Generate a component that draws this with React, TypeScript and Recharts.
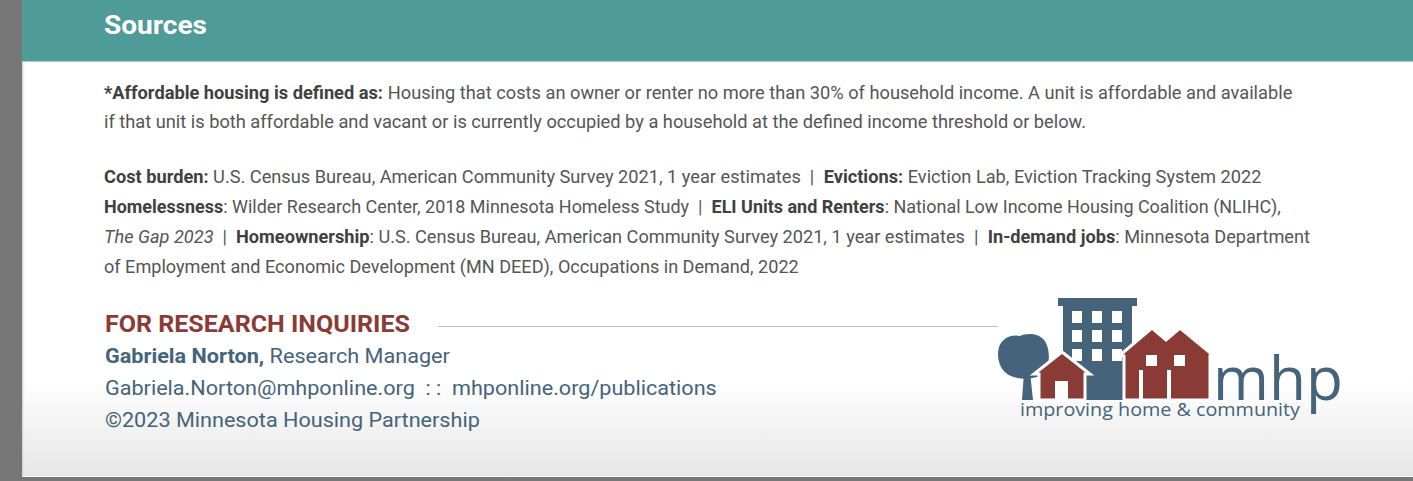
import React from "react";
import { Surface, Layer, Rectangle, Polygon } from "recharts";

// Text content, one entry per printed line
type Seg = { t: string; b?: boolean; i?: boolean };

const noteLines: Seg[][] = [
  [
    { t: "*Affordable housing is defined as:", b: true },
    { t: " Housing that costs an owner or renter no more than 30% of household income. A unit is affordable and available" },
  ],
  [{ t: "if that unit is both affordable and vacant or is currently occupied by a household at the defined income threshold or below." }],
];

const sourceLines: Seg[][] = [
  [
    { t: "Cost burden:", b: true },
    { t: " U.S. Census Bureau, American Community Survey 2021, 1 year estimates  |  " },
    { t: "Evictions:", b: true },
    { t: " Eviction Lab, Eviction Tracking System 2022" },
  ],
  [
    { t: "Homelessness", b: true },
    { t: ": Wilder Research Center, 2018 Minnesota Homeless Study  |  " },
    { t: "ELI Units and Renters", b: true },
    { t: ": National Low Income Housing Coalition (NLIHC)," },
  ],
  [
    { t: "The Gap 2023", i: true },
    { t: "  |  " },
    { t: "Homeownership", b: true },
    { t: ": U.S. Census Bureau, American Community Survey 2021, 1 year estimates  |  " },
    { t: "In-demand jobs", b: true },
    { t: ": Minnesota Department" },
  ],
  [{ t: "of Employment and Economic Development (MN DEED), Occupations in Demand, 2022" }],
];

const contactLines: Seg[][] = [
  [{ t: "Gabriela Norton,", b: true }, { t: " Research Manager" }],
  [{ t: "Gabriela.Norton@mhponline.org  : :  mhponline.org/publications" }],
  [{ t: "\u00a92023 Minnesota Housing Partnership" }],
];

// measured line widths (px) so the rendered lines end where the original does
const noteWidths = [1189, 983];
const sourceWidths = [1158, 1177, 1206, 695];
const contactWidths = [345, 612, 375];

const W = 1413;
const H = 481;
const TEAL = "#4e9b97";
const SLATE = "#45637a";
const RED = "#8b3b36";
const BODY = "#555555";
const FONT = "Roboto";

let ctx: CanvasRenderingContext2D | null = null;
const measure = (s: Seg, size: number) => {
  if (!ctx) ctx = document.createElement("canvas").getContext("2d");
  if (!ctx) return s.t.length * size * 0.5;
  ctx.font = `${s.i ? "italic " : ""}${s.b ? 700 : 400} ${size}px ${FONT}`;
  return ctx.measureText(s.t).width;
};

// one printed line: segments laid out side by side, then squeezed to the measured width
const Line = ({ segs, x, y, width, size, color, boldColor }: { segs: Seg[]; x: number; y: number; width: number; size: number; color: string; boldColor: string }) => {
  const widths = segs.map((s) => measure(s, size));
  const total = widths.reduce((a, b) => a + b, 0);
  const sx = width / total;
  let cx = 0;
  return (
    <g transform={`translate(${x},${y}) scale(${sx},1)`}>
      {segs.map((s, k) => {
        const px = cx;
        cx += widths[k];
        return (
          <text
            key={k}
            x={px}
            y={0}
            fontSize={size}
            fontFamily={`${FONT}, sans-serif`}
            fontWeight={s.b ? 700 : 400}
            fontStyle={s.i ? "italic" : "normal"}
            fill={s.b ? boldColor : color}
            style={{ whiteSpace: "pre" }}
          >
            {s.t}
          </text>
        );
      })}
    </g>
  );
};

const Logo = () => {
  const windowsX = [1072, 1092, 1112];
  const windowsY = [311, 330, 349];
  return (
    <Layer>
      {/* tree */}
      <path d="M1022 400 L1024 372 L1030 372 L1033 400 Z" fill={SLATE} />
      <path
        d="M1001 343 C996 350 997 366 1006 373 C1013 380 1036 381 1044 373 C1051 365 1050 347 1044 340 C1038 333 1027 333 1020 336 C1012 334 1005 337 1001 343 Z"
        fill={SLATE}
      />
      {/* tower */}
      <Rectangle x={1058} y={298} width={79} height={8} fill={SLATE} />
      <Rectangle x={1063} y={305} width={69} height={95} fill={SLATE} />
      {windowsY.map((wy) =>
        windowsX.map((wx) => <Rectangle key={`${wx}-${wy}`} x={wx} y={wy} width={10} height={12} fill="#ffffff" />)
      )}
      {/* small house */}
      <Polygon
        points={[
          { x: 1034, y: 374 },
          { x: 1062, y: 352 },
          { x: 1090, y: 374 },
          { x: 1085, y: 374 },
          { x: 1085, y: 400 },
          { x: 1039, y: 400 },
          { x: 1039, y: 374 },
        ]}
        fill={RED}
        stroke="#ffffff"
        strokeWidth={3}
      />
      <Rectangle x={1055} y={381} width={13} height={19} fill="#ffffff" />
      {/* duplex */}
      <Polygon
        points={[
          { x: 1119, y: 356 },
          { x: 1152, y: 328 },
          { x: 1166, y: 340 },
          { x: 1180, y: 328 },
          { x: 1214, y: 356 },
          { x: 1210, y: 356 },
          { x: 1210, y: 400 },
          { x: 1124, y: 400 },
          { x: 1124, y: 356 },
        ]}
        fill={RED}
        stroke="#ffffff"
        strokeWidth={3}
      />
      <Rectangle x={1146} y={355} width={11} height={11} fill="#ffffff" />
      <Rectangle x={1174} y={355} width={11} height={11} fill="#ffffff" />
      <Rectangle x={1139} y={370} width={4} height={30} fill="#ffffff" />
      <Rectangle x={1167} y={370} width={4} height={30} fill="#ffffff" />
      <Rectangle x={1018} y={400} width={194} height={2} fill="#ffffff" />
      <text x={1213} y={400} fill={SLATE} fontSize={60} fontFamily="'Open Sans', sans-serif" textLength={130} lengthAdjust="spacingAndGlyphs">
        mhp
      </text>
      <text x={1020} y={416} fill={SLATE} fontSize={19} fontFamily="'Open Sans', sans-serif" textLength={280} lengthAdjust="spacingAndGlyphs">
        improving home &amp; community
      </text>
    </Layer>
  );
};

const App: React.FC = () => {
  return (
    <div style={{ width: W, height: H, position: "relative", overflow: "hidden" }}>
      <style>{`body{margin:0}`}</style>
      <Surface width={W} height={H} viewBox={{ x: 0, y: 0, width: W, height: H }}>
        <defs>
          <linearGradient id="pageFade" x1="0" y1="0" x2="0" y2="1">
            <stop offset="0" stopColor="#ffffff" />
            <stop offset="1" stopColor="#e6e6e6" />
          </linearGradient>
          <linearGradient id="edgeShade" x1="0" y1="0" x2="1" y2="0">
            <stop offset="0" stopColor="#d0d0d0" />
            <stop offset="1" stopColor="#ffffff" stopOpacity={0} />
          </linearGradient>
        </defs>
        <Rectangle x={0} y={0} width={W} height={H} fill="#777777" />
        <Rectangle x={22} y={0} width={W - 22} height={477} fill="#ffffff" />
        <Rectangle x={22} y={380} width={W - 22} height={96} fill="url(#pageFade)" />
        <Rectangle x={22} y={61} width={4} height={415} fill="url(#edgeShade)" />
        <Rectangle x={22} y={0} width={W - 22} height={61} fill={TEAL} />
        <Rectangle x={22} y={61} width={W - 22} height={1} fill="#a9d0cd" />

        <text x={104} y={34} fill="#ffffff" fontSize={26} fontWeight={700} fontFamily="Roboto, sans-serif" textLength={103} lengthAdjust="spacingAndGlyphs">
          Sources
        </text>

        {noteLines.map((segs, k) => (
          <Line key={k} segs={segs} x={104} y={99 + k * 29} width={noteWidths[k]} size={18.5} color={BODY} boldColor="#404040" />
        ))}
        {sourceLines.map((segs, k) => (
          <Line key={k} segs={segs} x={104} y={183 + k * 30} width={sourceWidths[k]} size={18.5} color={BODY} boldColor="#404040" />
        ))}

        <Line segs={[{ t: "FOR RESEARCH INQUIRIES", b: true }]} x={105} y={332} width={305} size={23} color={RED} boldColor={RED} />
        <Rectangle x={438} y={326} width={560} height={1} fill="#bdbdbd" />
        {contactLines.map((segs, k) => (
          <Line key={k} segs={segs} x={105} y={363 + k * 32} width={contactWidths[k]} size={20} color={SLATE} boldColor={SLATE} />
        ))}

        <Logo />
      </Surface>
    </div>
  );
};

export default App;
